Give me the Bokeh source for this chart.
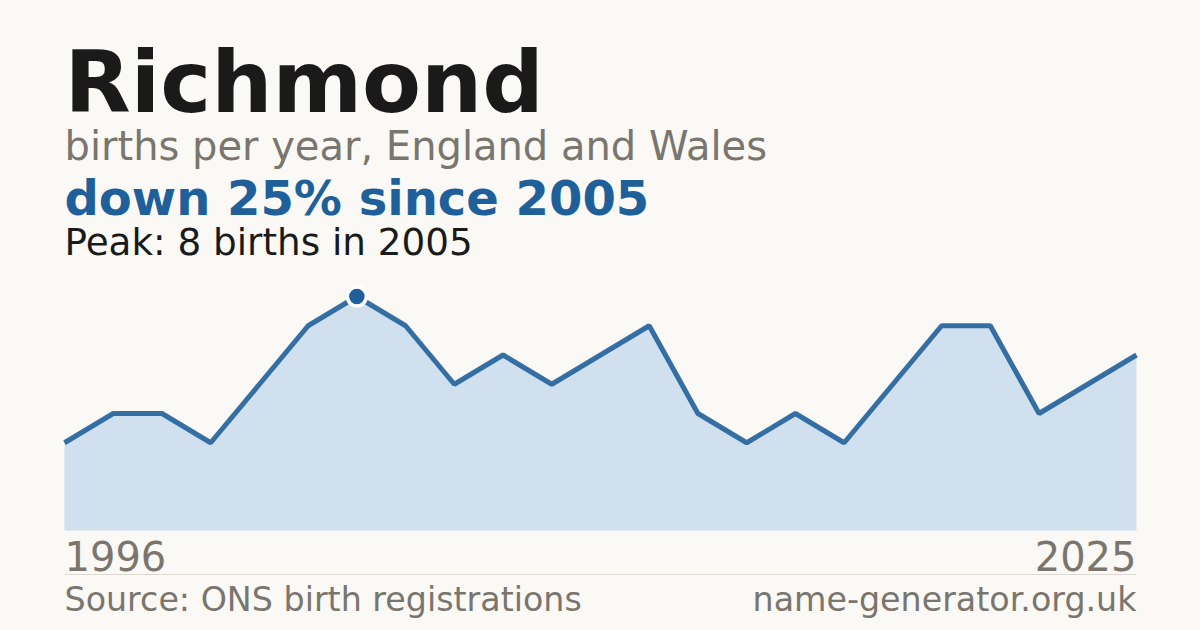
from bokeh.plotting import figure
from bokeh.models import Label, BoxAnnotation, Range1d
from bokeh.embed import file_html
from bokeh.resources import INLINE

# ---- data ----
place = "Richmond"
first_year = "1996"
last_year = "2025"
peak_year = "2005"
births = [3, 4, 4, 3, 5, 7, 8, 7, 5, 6, 5, 6, 7, 4, 3, 4, 3, 5, 7, 7, 4, 5, 6]
idx = list(range(len(births)))
peak_i = births.index(max(births))

BG = "#faf9f5"
BLUE = "#20609a"
FILL = "#d0e0ef"
GREY = "#7a756d"
DARK = "#1a1a1a"
FONT = "DejaVu Sans"

W, H = 1200, 630
# plot region in page px: x 64..1136, zero line at y=530, 29.25 px per birth
n = len(births) - 1
xs = (1136 - 64) / n
x0 = -64 / xs
x1 = x0 + W / xs
ys = 29.25
y0 = -(H - 530) / ys
y1 = y0 + H / ys

p = figure(width=W, height=H, output_backend="svg", toolbar_location=None,
           x_range=Range1d(x0, x1), y_range=Range1d(y0, y1),
           min_border=0, background_fill_color=BG, border_fill_color=BG,
           outline_line_color=None)
p.axis.visible = False
p.grid.visible = False

p.varea(x=idx, y1=[0] * len(births), y2=births, fill_color=FILL)
p.line(x=idx, y=births, line_color=BLUE, line_width=5, line_alpha=0.9)
p.scatter(x=[peak_i], y=[births[peak_i]], size=19, fill_color=BLUE,
          line_color="white", line_width=3.5)

K = 0.37  # baseline correction

def lab(text, x, base, size, color, bold=False, align="left"):
    p.add_layout(Label(x=x, y=H - base + K * size, x_units="screen", y_units="screen",
                       text=text, text_font=FONT, text_font_size=f"{size}px",
                       text_font_style="bold" if bold else "normal",
                       text_color=color, text_align=align,
                       text_baseline="alphabetic"))

lab(place, 64, 113, 86, DARK, bold=True)
lab("births per year, England and Wales", 64, 160, 40, GREY)
lab(f"down 25% since {peak_year}", 64, 215, 48, BLUE, bold=True)
lab(f"Peak: {max(births)} births in {peak_year}", 64, 255, 37.3, DARK)
lab(first_year, 64, 570, 40, GREY)
lab(last_year, 1136, 570, 40, GREY, align="right")
lab("Source: ONS birth registrations", 64, 611, 33.3, GREY)
lab("name-generator.org.uk", 1136, 611, 33.3, GREY, align="right")

p.add_layout(BoxAnnotation(left=64, right=1136, bottom=H - 574.5, top=H - 573.5,
                           left_units="screen", right_units="screen",
                           bottom_units="screen", top_units="screen",
                           fill_color="#dcd9d3", fill_alpha=1, line_color=None))

html = file_html(p, INLINE)
html = html.replace("<head>", f"<head><style>body{{background:{BG};}}</style>", 1)
open("out.html", "w").write(html)
